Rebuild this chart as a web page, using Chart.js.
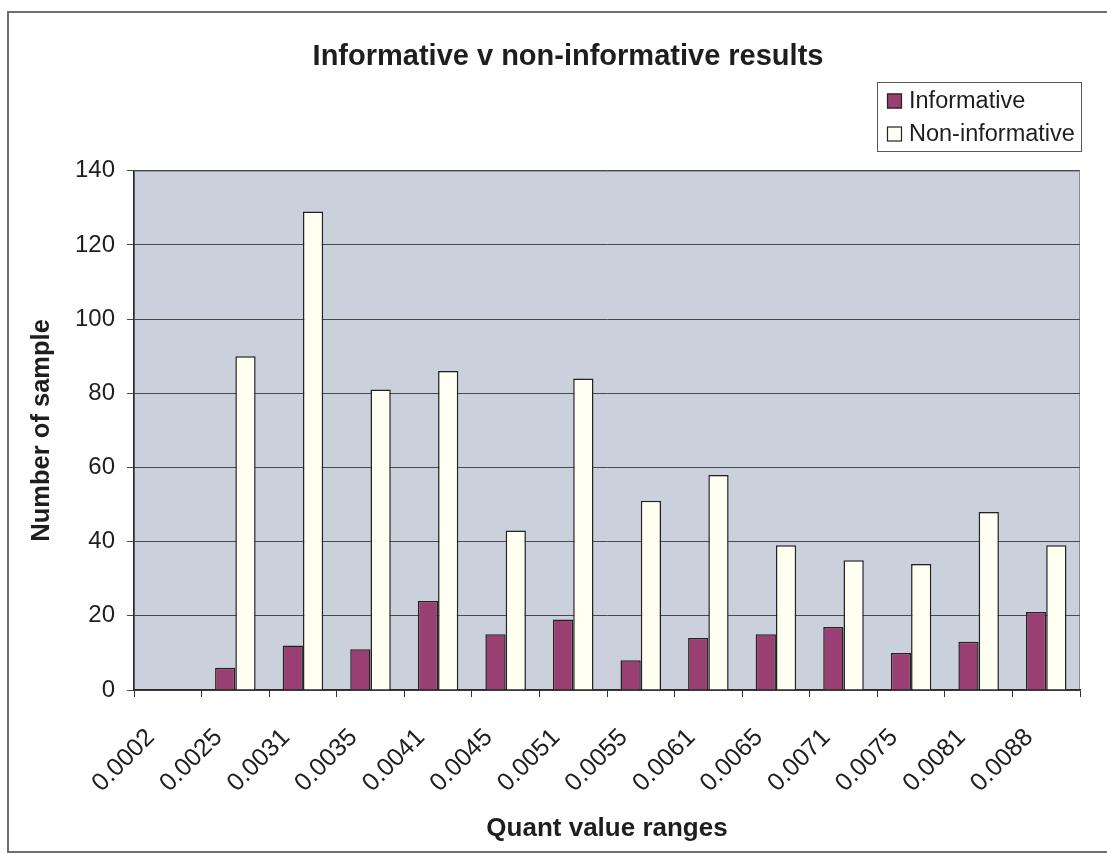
<!DOCTYPE html>
<html>
<head>
<meta charset="utf-8">
<title>Informative v non-informative results</title>
<script src="https://cdn.jsdelivr.net/npm/chart.js@4.4.1/dist/chart.umd.min.js"></script>
<style>
  html, body { margin: 0; padding: 0; background: #ffffff; }
  #wrap { position: relative; width: 1107px; height: 854px; }
  canvas { display: block; }
</style>
</head>
<body>
<div id="wrap"><canvas id="chart" width="1107" height="854"></canvas></div>
<script>
// Quant value ranges on the category axis
const categories = ['0.0002', '0.0025', '0.0031', '0.0035', '0.0041', '0.0045', '0.0051',
                    '0.0055', '0.0061', '0.0065', '0.0071', '0.0075', '0.0081', '0.0088'];

// Number of samples per range
const informative    = [null, 6, 12, 11, 24, 15, 19, 8, 14, 15, 17, 10, 13, 21];
const nonInformative = [null, 90, 129, 81, 86, 43, 84, 51, 58, 39, 35, 34, 48, 39];

// Value axis
const yMin = 0;
const yMax = 140;
const yStep = 20;

const FONT = '"Liberation Sans", Arial, Helvetica, sans-serif';
const TEXT = '#1e1e1e';

// Page frame and the grey-blue plot area behind the bars
const plotBackdrop = {
  id: 'plotBackdrop',
  beforeDraw(chart) {
    const { ctx, chartArea: a } = chart;
    ctx.save();
    ctx.fillStyle = '#ffffff';
    ctx.fillRect(0, 0, chart.width, chart.height);

    ctx.strokeStyle = '#6e6e6e';
    ctx.lineWidth = 2;
    ctx.beginPath();
    ctx.moveTo(chart.width, 12);
    ctx.lineTo(8, 12);
    ctx.lineTo(8, 852);
    ctx.lineTo(chart.width, 852);
    ctx.stroke();

    ctx.fillStyle = '#cbd1dc';
    ctx.fillRect(a.left, a.top, a.right - a.left, a.bottom - a.top);
    ctx.strokeStyle = '#8a8d93';
    ctx.lineWidth = 1;
    ctx.strokeRect(a.left + 0.5, a.top + 0.5, a.right - a.left - 1, a.bottom - a.top);
    ctx.restore();
  }
};

// Boxed legend stacked in the upper right corner
const boxLegend = {
  id: 'boxLegend',
  afterDraw(chart, args, opts) {
    const { ctx } = chart;
    ctx.save();
    ctx.fillStyle = '#ffffff';
    ctx.fillRect(opts.x, opts.y, opts.width, opts.height);
    ctx.strokeStyle = '#5a5a5a';
    ctx.lineWidth = 1;
    ctx.strokeRect(opts.x + 0.5, opts.y + 0.5, opts.width, opts.height);
    ctx.font = opts.fontSize + 'px ' + FONT;
    ctx.textBaseline = 'middle';
    ctx.textAlign = 'left';
    chart.data.datasets.forEach((ds, i) => {
      const cy = opts.y + opts.firstRow + i * opts.rowGap;
      const sx = opts.x + opts.swatchInset;
      ctx.fillStyle = ds.backgroundColor;
      ctx.fillRect(sx, cy - opts.swatch / 2, opts.swatch, opts.swatch);
      ctx.strokeStyle = '#222222';
      ctx.lineWidth = 1.2;
      ctx.strokeRect(sx + 0.5, cy - opts.swatch / 2 + 0.5, opts.swatch - 1, opts.swatch - 1);
      ctx.fillStyle = TEXT;
      ctx.fillText(ds.label, sx + opts.swatch + opts.textGap, cy + 1);
    });
    ctx.restore();
  }
};

new Chart(document.getElementById('chart'), {
  type: 'bar',
  data: {
    labels: categories,
    datasets: [
      {
        label: 'Informative',
        data: informative,
        backgroundColor: '#9a3f72',
        borderColor: '#232323',
        borderWidth: 1.5,
        borderSkipped: 'start',
        categoryPercentage: 0.6,
        barPercentage: 1.0
      },
      {
        label: 'Non-informative',
        data: nonInformative,
        backgroundColor: '#fffff2',
        borderColor: '#232323',
        borderWidth: 1.5,
        borderSkipped: 'start',
        categoryPercentage: 0.6,
        barPercentage: 1.0
      }
    ]
  },
  options: {
    responsive: false,
    animation: false,
    devicePixelRatio: 1,
    layout: { padding: { left: 56, right: 27, top: 0, bottom: 0 } },
    plugins: {
      legend: { display: false },
      tooltip: { enabled: false },
      title: {
        display: true,
        text: 'Informative v non-informative results',
        color: TEXT,
        font: { family: FONT, size: 29, weight: 'bold' },
        padding: { top: 40, bottom: 96 }
      },
      boxLegend: {
        x: 877, y: 82, width: 204, height: 69,
        firstRow: 19, rowGap: 33,
        swatch: 15, swatchInset: 10, textGap: 7,
        fontSize: 23.5
      }
    },
    scales: {
      x: {
        type: 'category',
        offset: true,
        grid: {
          display: true,
          drawOnChartArea: false,
          drawTicks: true,
          tickLength: 7,
          color: '#333333',
          lineWidth: 1,
          offset: true
        },
        border: { display: true, color: '#2a2a2a', width: 1.5 },
        ticks: {
          autoSkip: false,
          minRotation: 45,
          maxRotation: 45,
          padding: 26,
          labelOffset: -17,
          color: TEXT,
          font: { family: FONT, size: 25 }
        },
        title: {
          display: true,
          text: 'Quant value ranges',
          color: TEXT,
          font: { family: FONT, size: 26, weight: 'bold' },
          padding: { top: 0, bottom: 10 }
        },
        afterFit(scale) { scale.height = 164; }
      },
      y: {
        min: yMin,
        max: yMax,
        grid: {
          color: '#4a4a4a',
          lineWidth: 1,
          drawTicks: true,
          tickLength: 7
        },
        border: { display: true, color: '#2a2a2a', width: 1.5 },
        ticks: {
          stepSize: yStep,
          padding: 12,
          color: TEXT,
          font: { family: FONT, size: 24 }
        },
        title: {
          display: true,
          text: 'Number of sample',
          color: TEXT,
          font: { family: FONT, size: 25.5, weight: 'bold' },
          padding: { top: -29, bottom: 0 }
        },
        afterFit(scale) { scale.width = 78; }
      }
    }
  },
  plugins: [plotBackdrop, boxLegend]
});
</script>
</body>
</html>
